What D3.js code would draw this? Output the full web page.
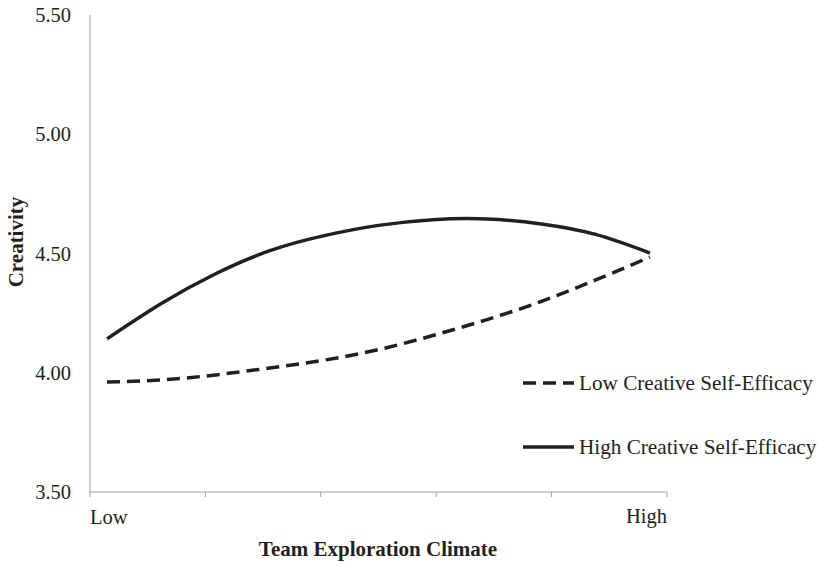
<!DOCTYPE html>
<meta charset="utf-8">
<style>
  body { margin: 0; background: #fff; }
  text { font-family: "Liberation Serif", "Times New Roman", serif; fill: #231f20; }
  .axis line, .axis path { stroke: #a0a0a0; stroke-width: 1px; fill: none; }
  .series { fill: none; stroke: #231f20; stroke-width: 3.5px; }
</style>
<svg width="821" height="562"></svg>
<script src="https://d3js.org/d3.v7.min.js"></script>
<script>
  // team exploration climate, -1 SD (Low) to +1 SD (High)
  var climate = [-1, -0.8, -0.6, -0.4, -0.2, 0, 0.2, 0.4, 0.6, 0.8, 1];
  var lowCSE = [3.961, 3.970, 3.991, 4.020, 4.053, 4.097, 4.156, 4.223, 4.299, 4.389, 4.485];
  var highCSE = [4.142, 4.290, 4.415, 4.512, 4.575, 4.618, 4.642, 4.645, 4.624, 4.580, 4.502];
  var yTicks = [3.5, 4.0, 4.5, 5.0, 5.5];
  var xLabels = ["Low", "High"];
  var seriesNames = ["Low Creative Self-Efficacy", "High Creative Self-Efficacy"];

  var svg = d3.select("svg");

  var x = d3.scaleLinear().domain([-1.0626, 1.0626]).range([90, 667]);
  var y = d3.scaleLinear().domain([3.5, 5.5]).range([492, 15]);

  // y axis
  var yAxis = svg.append("g").attr("class", "axis");
  yAxis.append("line")
    .attr("x1", x.range()[0]).attr("x2", x.range()[0])
    .attr("y1", y(5.5)).attr("y2", y(3.5));
  yAxis.selectAll("text.tick")
    .data(yTicks)
    .enter().append("text")
    .attr("class", "tick")
    .attr("x", 71)
    .attr("y", function(d) { return y(d); })
    .attr("dy", "0.35em")
    .attr("text-anchor", "end")
    .style("font-size", "20.5px")
    .text(function(d) { return d.toFixed(2); });

  // x axis
  var xAxis = svg.append("g").attr("class", "axis");
  xAxis.append("line")
    .attr("x1", x.range()[0]).attr("x2", x.range()[1])
    .attr("y1", y(3.5)).attr("y2", y(3.5));
  var xt = d3.range(6).map(function(i) {
    return x.domain()[0] + i * (x.domain()[1] - x.domain()[0]) / 5;
  });
  xAxis.selectAll("line.tk")
    .data(xt)
    .enter().append("line")
    .attr("class", "tk")
    .attr("x1", function(d) { return x(d); })
    .attr("x2", function(d) { return x(d); })
    .attr("y1", y(3.5)).attr("y2", y(3.5) + 5);

  svg.append("text")
    .attr("x", x.range()[0]).attr("y", 524)
    .style("font-size", "20.5px")
    .text(xLabels[0]);
  svg.append("text")
    .attr("x", x.range()[1]).attr("y", 523)
    .attr("text-anchor", "end")
    .style("font-size", "20.5px")
    .text(xLabels[1]);

  // titles
  svg.append("text")
    .attr("x", 378).attr("y", 556)
    .attr("text-anchor", "middle")
    .style("font-size", "21px")
    .style("font-weight", "bold")
    .text("Team Exploration Climate");
  svg.append("text")
    .attr("transform", "translate(23,242) rotate(-90)")
    .attr("text-anchor", "middle")
    .style("font-size", "21px")
    .style("font-weight", "bold")
    .text("Creativity");

  // lines
  var line = d3.line()
    .x(function(d) { return x(d[0]); })
    .y(function(d) { return y(d[1]); })
    .curve(d3.curveNatural);

  svg.append("path")
    .datum(d3.zip(climate, lowCSE))
    .attr("class", "series")
    .attr("stroke-dasharray", "13,7")
    .attr("d", line);

  svg.append("path")
    .datum(d3.zip(climate, highCSE))
    .attr("class", "series")
    .attr("d", line);

  // legend
  var legend = svg.append("g");
  var ly = [383, 447];
  seriesNames.forEach(function(name, i) {
    legend.append("line")
      .attr("class", "series")
      .attr("x1", 523).attr("x2", 574)
      .attr("y1", ly[i]).attr("y2", ly[i])
      .attr("stroke-dasharray", i === 0 ? "13,7" : null);
    legend.append("text")
      .attr("x", 579).attr("y", ly[i])
      .attr("dy", "0.33em")
      .style("font-size", "21.2px")
      .text(name);
  });
</script>
